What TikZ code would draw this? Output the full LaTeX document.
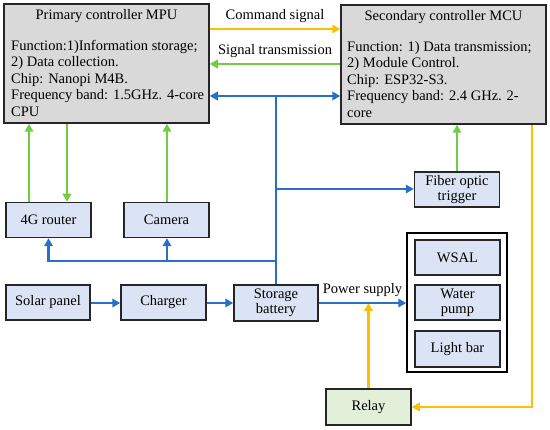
\documentclass[tikz,border=0pt]{standalone}
\usepackage{fontspec}
\setmainfont{Liberation Serif}
\usetikzlibrary{arrows.meta,calc}
\definecolor{cblue}{RGB}{38,112,204}
\definecolor{cgreen}{RGB}{112,204,64}
\definecolor{corange}{RGB}{255,190,0}
\definecolor{bfill}{RGB}{218,228,244}
\definecolor{gfill}{RGB}{226,240,217}
\definecolor{grayfill}{RGB}{217,217,217}
\begin{document}
\begin{tikzpicture}[x=1pt,y=-1pt,
  font=\fontsize{14.5}{16}\selectfont,
  bigbox/.style={draw=black!85,line width=1.5pt,fill=grayfill,minimum width=205pt,minimum height=119pt,inner sep=0pt},
  sbox/.style={draw=black!85,line width=1.5pt,fill=bfill,minimum width=85pt,minimum height=35pt,inner sep=1pt,align=center,font=\fontsize{14.5}{15}\selectfont},
  grp/.style={draw=black,line width=1.5pt,minimum width=100pt,minimum height=139pt,inner sep=0pt},
  body/.style={inner sep=0pt,anchor=north west,align=left,font=\fontsize{14.5}{16.5}\selectfont},
  bl/.style={draw=cblue,line width=2.7pt},
  gl/.style={draw=cgreen,line width=2.7pt},
  ol/.style={draw=corange,line width=2.7pt},
  tip/.style={-{Triangle[length=8pt,width=8.5pt]}},
  bitip/.style={{Triangle[length=8pt,width=8.5pt]}-{Triangle[length=8pt,width=8.5pt]}},
  lbl/.style={inner sep=0pt}]
\useasboundingbox (0,0) rectangle (550,430);
% big boxes
\node[bigbox] (mpu) at (106.5,63.5) {};
\node[bigbox] (mcu) at (443.5,64.5) {};
\node[lbl] (mputitle) at (106.5,16) {Primary controller MPU};
\node[body] (mpubody) at (11,40) {Function:1)Information storage;\\2) Data collection.\\Chip: Nanopi M4B.\\Frequency band: 1.5GHz. 4-core\\CPU};
\node[lbl] (mcutitle) at (443.5,17) {Secondary controller MCU};
\node[body] (mcubody) at (347,41) {Function: 1) Data transmission;\\2) Module Control.\\Chip: ESP32-S3.\\Frequency band: 2.4 GHz. 2-\\core};
% small boxes
\node[sbox] (router) at (48.5,220) {4G router};
\node[sbox] (camera) at (166.5,220) {Camera};
\node[sbox] (fiber) at (457,189.5) {Fiber optic\\trigger};
\node[sbox,minimum width=84pt] (solar) at (48,302.5) {Solar panel};
\node[sbox] (charger) at (163.5,302.5) {Charger};
\node[sbox,minimum width=84pt,minimum height=36pt] (storage) at (276,303) {Storage\\battery};
\node[grp] (group) at (457,302.5) {};
\node[sbox] (wsal) at (457.5,257.5) {WSAL};
\node[sbox] (pump) at (457.5,302.5) {Water\\pump};
\node[sbox,minimum height=36pt] (light) at (457.5,349) {Light bar};
\node[sbox,fill=gfill,minimum height=36pt] (relay) at (368.5,407) {Relay};
% coordinates
\coordinate (ycmd) at (0,29);
\coordinate (ysig) at (0,64);
\coordinate (ybus) at (0,96);
\coordinate (yfib) at (0,189);
\coordinate (ycam) at (0,261);
\coordinate (jtop) at (276,96);
\coordinate (jfib) at (276,189);
\coordinate (jcam) at (276,261);
\coordinate (xr1) at (29,0);
\coordinate (xr2) at (67,0);
\coordinate (xcam) at (167,0);
\coordinate (xo) at (532,0);
\coordinate (ypow) at (0,303);
% signal lines
\draw[ol,tip] (mpu.east|-ycmd) -- (mcu.west|-ycmd) node[lbl,midway,above=5pt] (cmdlbl) {Command signal};
\draw[gl,tip] (mcu.west|-ysig) -- (mpu.east|-ysig) node[lbl,midway,above=5pt] (siglbl) {Signal transmission};
\draw[bl,bitip] (mpu.east|-ybus) -- (mcu.west|-ybus);
\draw[bl] (storage.north) -- (jtop);
\draw[bl,tip] (jfib) -- (fiber.west|-yfib);
\draw[bl,tip] (jcam) -| (router.south);
\draw[bl,tip] (camera.south-|xcam) ++(0,23) -- (camera.south-|xcam);
% green links
\draw[gl,tip] (router.north-|xr1) -- (mpu.south-|xr1);
\draw[gl,tip] (mpu.south-|xr2) -- (router.north-|xr2);
\draw[gl,tip] (camera.north-|xcam) -- (mpu.south-|xcam);
\draw[gl,tip] (fiber.north) -- (fiber.north|-mcu.south);
% orange
\draw[ol,tip] (mcu.south-|xo) |- (relay.east);
\draw[ol,tip] (relay.north) -- (relay.north|-ypow);
% power chain
\draw[bl,tip] (solar.east|-ypow) -- (charger.west|-ypow);
\draw[bl,tip] (charger.east|-ypow) -- (storage.west|-ypow);
\draw[bl,tip] (storage.east|-ypow) -- (group.west|-ypow) node[lbl,midway,above=5pt] (powlbl) {Power supply};
\end{tikzpicture}
\end{document}
